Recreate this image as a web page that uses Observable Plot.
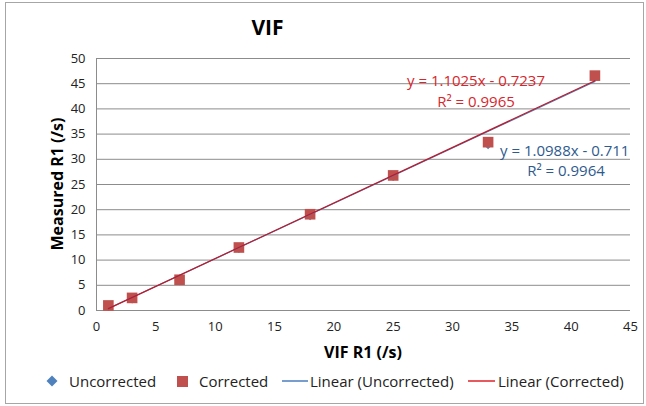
<!DOCTYPE html>
<html><head><meta charset="utf-8">
<script src="https://cdn.jsdelivr.net/npm/d3@7"></script>
<script src="https://cdn.jsdelivr.net/npm/@observablehq/plot@0.6"></script>
<style>
body{margin:0;background:#fff;font-family:"Open Sans",sans-serif;}
#wrap{position:relative;width:646px;height:406px;overflow:hidden;}
#frame{position:absolute;left:5px;top:2px;width:639px;height:402px;border:1px solid #a6a6a6;box-sizing:border-box;}
.t{position:absolute;white-space:nowrap;}
#title{left:0;width:535px;text-align:center;top:13px;font-weight:bold;font-size:21px;color:#000;}
#ylab{left:57px;top:184px;transform:translate(-50%,-50%) rotate(-90deg);font-weight:bold;font-size:16px;color:#000;}
#xlab{left:363px;top:352px;transform:translate(-50%,-50%);font-weight:bold;font-size:16px;color:#000;}
.eq{font-size:15px;}
#legend{position:absolute;left:0;top:370px;width:646px;font-size:15px;color:#222;}
.li{position:absolute;top:0;display:flex;align-items:center;height:22px;white-space:nowrap;}
svg{position:absolute;left:0;top:0;}
</style></head>
<body><div id="wrap"><div id="frame"></div></div>
<script>
// data
const vifR1 = [1, 3, 7, 12, 18, 25, 33, 42];
const uncorrected = [0.9, 2.4, 6.0, 12.4, 18.9, 26.7, 33.0, 46.4];
const corrected = [1.0, 2.5, 6.1, 12.5, 19.1, 26.8, 33.4, 46.6];
const fitSlope = {Uncorrected: 1.0988, Corrected: 1.1025};
const fitIntercept = {Uncorrected: -0.711, Corrected: -0.7237};
const fitR2 = {Uncorrected: "0.9964", Corrected: "0.9965"};
const yTicks = [0,5,10,15,20,25,30,35,40,45,50];
const xTicks = [0,5,10,15,20,25,30,35,40,45];

const blue = "#4F81BD", red = "#C0504D";
const lineBlue = "#4A7EBB", lineRed = "#BE1A2A";

const ptsU = vifR1.map((x,i)=>({x, y: uncorrected[i]}));
const ptsC = vifR1.map((x,i)=>({x, y: corrected[i]}));
const xMin = d3.min(vifR1), xMax = d3.max(vifR1);
const fit = s => [xMin, xMax].map(x => ({x, y: fitSlope[s]*x + fitIntercept[s]}));

const chart = Plot.plot({
  width: 646, height: 406,
  marginLeft: 96, marginRight: 16, marginTop: 58, marginBottom: 96,
  style: {fontFamily: "'Open Sans', sans-serif", fontSize: "13px", color: "#222", background: "transparent"},
  x: {domain: [0,45], ticks: xTicks, tickSize: 0, tickPadding: 11, label: null},
  y: {domain: [0,50], ticks: yTicks, tickSize: 0, tickPadding: 11, label: null},
  marks: [
    Plot.ruleY(yTicks, {stroke: "#8c8c8c", strokeWidth: 1}),
    Plot.ruleX([0], {stroke: "#8c8c8c", strokeWidth: 1}),
    Plot.dot(ptsU, {x: "x", y: "y", symbol: "diamond2", r: 4.5, fill: blue, stroke: "none"}),
    Plot.dot(ptsC, {x: "x", y: "y", symbol: "square", r: 6, fill: red, stroke: "none"}),
    Plot.line(fit("Uncorrected"), {x: "x", y: "y", stroke: lineBlue, strokeWidth: 1.2}),
    Plot.line(fit("Corrected"), {x: "x", y: "y", stroke: lineRed, strokeWidth: 1.2}),
    Plot.axisX({ticks: xTicks, tickSize: 0, tickPadding: 11, label: null, fontSize: 13}),
    Plot.axisY({ticks: yTicks, tickSize: 0, tickPadding: 11, label: null, fontSize: 13})
  ]
});
const wrap = document.getElementById("wrap");
wrap.appendChild(chart);

function addText(id, cls, html, style){
  const d = document.createElement("div");
  if (id) d.id = id;
  d.className = "t " + (cls||"");
  d.innerHTML = html;
  if (style) Object.assign(d.style, style);
  wrap.appendChild(d);
  return d;
}
addText("title", "", "VIF");
addText("ylab", "", "Measured R1 (/s)");
addText("xlab", "", "VIF R1 (/s)");
const fmt = (s) => `y = ${fitSlope[s]}x - ${Math.abs(fitIntercept[s])}`;
addText(null, "eq", fmt("Corrected"), {left:"476px", top:"80px", transform:"translate(-50%,-50%)", color:"#D8262C"});
addText(null, "eq", `R² = ${fitR2.Corrected}`, {left:"476px", top:"101px", transform:"translate(-50%,-50%)", color:"#D8262C"});
addText(null, "eq", fmt("Uncorrected"), {left:"500px", top:"150px", transform:"translate(0,-50%)", color:"#2E5A8E"});
addText(null, "eq", `R² = ${fitR2.Uncorrected}`, {left:"566px", top:"170px", transform:"translate(-50%,-50%)", color:"#2E5A8E"});

const legend = document.createElement("div");
legend.id = "legend";
const items = [
  {x: 46, sym: `<svg width="12" height="12" style="position:static"><path d="M6 0.5L11.5 6L6 11.5L0.5 6Z" fill="${blue}"/></svg>`, label: "Uncorrected", gap: 11},
  {x: 177, sym: `<svg width="11" height="11" style="position:static"><rect width="11" height="11" fill="${red}"/></svg>`, label: "Corrected", gap: 11},
  {x: 282, sym: `<svg width="26" height="4" style="position:static"><line x1="0" x2="26" y1="2" y2="2" stroke="${lineBlue}" stroke-width="1.5"/></svg>`, label: "Linear (Uncorrected)", gap: 2},
  {x: 468, sym: `<svg width="27" height="4" style="position:static"><line x1="0" x2="27" y1="2" y2="2" stroke="#E0202A" stroke-width="1.5"/></svg>`, label: "Linear (Corrected)", gap: 3}
];
for (const it of items) {
  const d = document.createElement("div");
  d.className = "li";
  d.style.left = it.x + "px";
  d.innerHTML = it.sym + `<span style="margin-left:${it.gap}px">${it.label}</span>`;
  legend.appendChild(d);
}
wrap.appendChild(legend);
</script></body></html>
